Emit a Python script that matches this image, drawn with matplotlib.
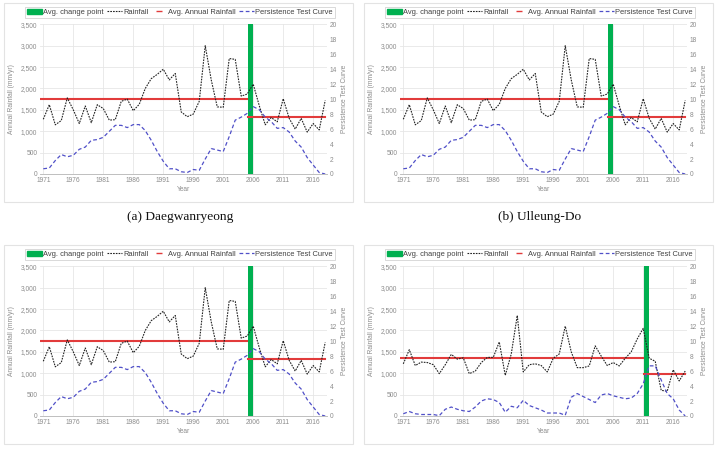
import matplotlib
matplotlib.use('Agg')
import matplotlib.pyplot as plt
from matplotlib.lines import Line2D
from matplotlib.patches import Patch, Rectangle
from matplotlib.ticker import FuncFormatter, MultipleLocator

W, H = 720, 454

years = list(range(1971, 2019))

# (a), (b), (c) share the same series
rain_a = [1280, 1620, 1150, 1250, 1780, 1500, 1180, 1590, 1200, 1620,
          1530, 1260, 1270, 1700, 1750, 1480, 1630, 2000, 2230, 2330,
          2450, 2200, 2350, 1450, 1340, 1400, 1700, 3000, 2200, 1570,
          1560, 2700, 2680, 1820, 1870, 2100, 1600, 1150, 1320, 1220,
          1760, 1300, 1050, 1300, 980, 1180, 1030, 1720]
pers_a = [0.7, 0.8, 1.8, 2.6, 2.3, 2.5, 3.3, 3.6, 4.5, 4.6,
          4.9, 5.7, 6.5, 6.5, 6.2, 6.6, 6.6, 5.8, 4.5, 3.0,
          1.7, 0.7, 0.7, 0.3, 0.2, 0.6, 0.5, 2.0, 3.4, 3.2,
          3.0, 5.0, 7.2, 7.6, 8.1, 9.0, 8.6, 7.6, 7.0, 6.1,
          6.2, 5.6, 4.4, 3.6, 2.2, 1.2, 0.2, 0.0]

rain_d = [1220, 1550, 1180, 1260, 1250, 1200, 990, 1200, 1440, 1330,
          1360, 990, 1050, 1250, 1370, 1370, 1730, 950, 1450, 2350,
          1030, 1200, 1220, 1180, 1030, 1350, 1450, 2100, 1500, 1130,
          1130, 1170, 1640, 1400, 1180, 1250, 1170, 1350, 1500, 1800,
          2050, 1350, 1280, 600, 580, 1080, 820, 1050]
pers_d = [0.3, 0.6, 0.3, 0.2, 0.2, 0.2, 0.05, 0.9, 1.2, 0.9,
          0.7, 0.6, 1.2, 2.0, 2.3, 2.2, 1.8, 0.5, 1.3, 1.1,
          2.1, 1.4, 1.1, 0.8, 0.4, 0.4, 0.4, 0.1, 2.5, 3.0,
          2.6, 2.2, 1.8, 2.8, 3.0, 2.7, 2.5, 2.3, 2.4, 3.0,
          4.3, 6.7, 6.7, 4.8, 3.0, 2.3, 0.8, 0.0]

# change point year, mean before, mean after
cp_a = (2005, 1760, 1340)
cp_d = (2011, 1350, 980)

captions = ['(a) Daegwanryeong', '(b) Ulleung-Do', None, None]

GRAY = '#8c8c8c'
fig = plt.figure(figsize=(W / 100, H / 100), dpi=100)
plt.rcParams['font.family'] = ['Liberation Sans', 'DejaVu Sans']


def fx(x):
    return x / W


def fy(y):
    return 1 - y / H


def panel(ox, oy, rain, pers, cp, caption):
    # frame around the excel chart
    fig.patches.append(Rectangle((fx(ox + 4), fy(oy + 202)), 349 / W, 199 / H,
                                 transform=fig.transFigure, fill=False,
                                 edgecolor='#e3e3e3', lw=0.8))
    left, right, top, bottom = ox + 40, ox + 327, oy + 24.3, oy + 174
    ax = fig.add_axes([fx(left), fy(bottom), (right - left) / W, (bottom - top) / H])
    ax2 = ax.twinx()

    ax.set_xlim(1970.45, 2018.3)
    ax.set_ylim(0, 3500)
    ax2.set_ylim(0, 20)

    year, before, after = cp
    ax.axvspan(year + 0.2, year + 0.95, color='#00b050', lw=0, zorder=1)
    ax.plot([1970.45, year], [before, before], color='#e23b3b', lw=1.5, zorder=3)
    ax.plot([year + 0.15, 2018.0], [after, after], color='#e23b3b', lw=1.5, zorder=3)
    ax.plot(years, rain, color='#222222', lw=0.8, ls=(0, (1.5, 1)), zorder=4)
    ax2.plot(years, pers, color='#5050c8', lw=0.9, ls=(0, (3, 2)))

    ax.yaxis.set_major_locator(MultipleLocator(500))
    ax.yaxis.set_major_formatter(FuncFormatter(lambda v, p: f'{int(v):,}'))
    ax2.yaxis.set_major_locator(MultipleLocator(2))
    ax.set_xticks(list(range(1971, 2017, 5)))
    ax.grid(True, color='#e6e6e6', lw=0.6)
    ax.set_axisbelow(True)

    for a in (ax, ax2):
        for s in ('top', 'left', 'right'):
            a.spines[s].set_visible(False)
        a.spines['bottom'].set_color('#bfbfbf')
        a.spines['bottom'].set_linewidth(0.6)
        a.tick_params(labelsize=4.8, colors=GRAY, length=0, pad=2)

    ax.set_xlabel('Year', fontsize=4.8, color=GRAY, labelpad=1.5)
    ax.set_ylabel('Annual Rainfall (mm/yr)', fontsize=4.8, color=GRAY, labelpad=4)
    ax2.set_ylabel('Persistence Test Curve', fontsize=4.8, color=GRAY, labelpad=3)

    handles = [Patch(color='#00b050'),
               Line2D([], [], color='#222222', lw=0.8, ls=(0, (1.5, 1))),
               Line2D([], [], color='#e23b3b', marker='_', ls='None', markersize=5, mew=1),
               Line2D([], [], color='#5050c8', lw=0.9, ls=(0, (3, 2)))]
    labels = ['Avg. change point', 'Rainfall', 'Avg. Annual Rainfall', 'Persistence Test Curve']
    leg = fig.legend(handles, labels, loc='center', ncol=4,
                     bbox_to_anchor=(fx(ox + 180), fy(oy + 12.3)),
                     fontsize=5.4, frameon=True, fancybox=False, edgecolor='#c8c8c8',
                     handlelength=1.9, handleheight=0.6, handletextpad=0.2,
                     columnspacing=0.5, borderpad=0.25, borderaxespad=0)
    leg.get_frame().set_linewidth(0.6)
    for t in leg.get_texts():
        t.set_color('#404040')

    if caption:
        fig.text(fx(ox + 180), fy(oy + 217), caption, ha='center', va='center',
                 fontsize=9.6, family='Liberation Serif', color='#111111')


panel(0, 0, rain_a, pers_a, cp_a, captions[0])
panel(360, 0, rain_a, pers_a, cp_a, captions[1])
panel(0, 242, rain_a, pers_a, cp_a, captions[2])
panel(360, 242, rain_d, pers_d, cp_d, captions[3])

fig.savefig('out.png', dpi=100)
